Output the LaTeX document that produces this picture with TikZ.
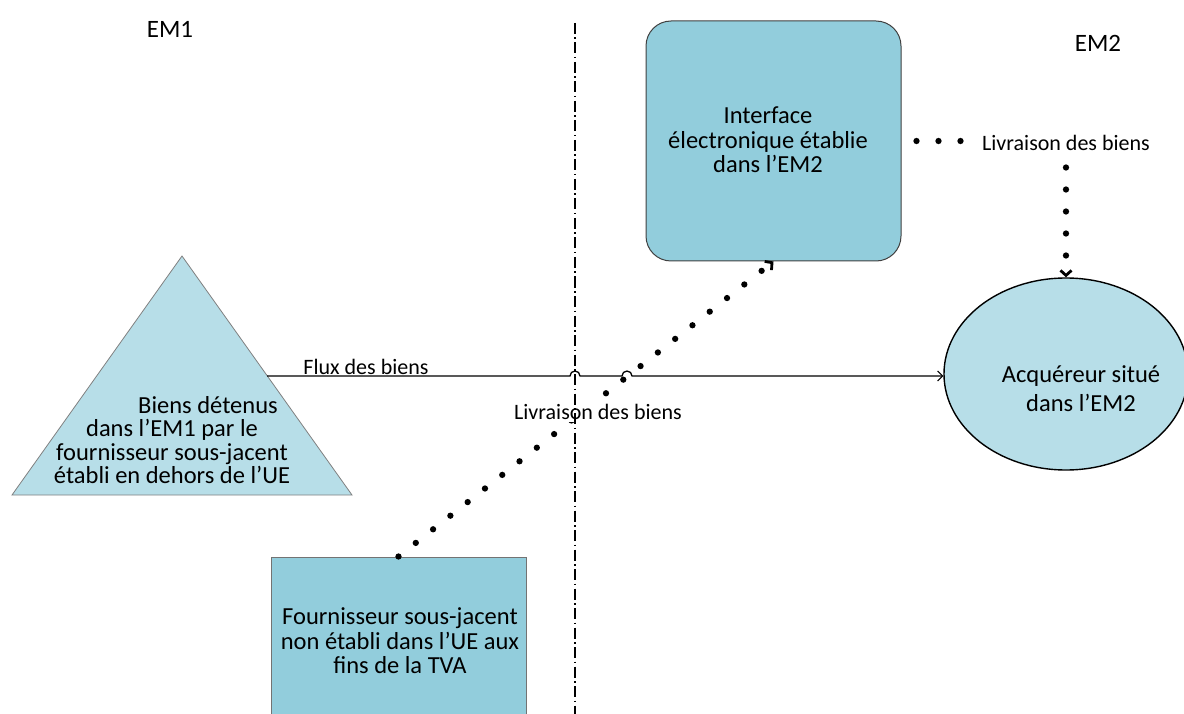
\documentclass[tikz,border=0pt]{standalone}
\usepackage{fontspec}
\setmainfont{Carlito}
\usetikzlibrary{arrows.meta,shapes.geometric}
\definecolor{boxblue}{RGB}{146,205,220}
\definecolor{lightblue}{RGB}{183,222,232}
\begin{document}
\begin{tikzpicture}[x=1pt,y=-1pt,
  boxtxt/.style={align=center,font=\fontsize{24.5}{24.5}\selectfont,inner sep=0pt},
  lbl/.style={font=\fontsize{22}{26}\selectfont,inner sep=0pt},
  dotline/.style={line width=6.3pt,line cap=round,dash pattern=on 0pt off 22pt},
  dottip/.style={-{Straight Barb[length=5pt,width=11pt,line width=2.8pt]}},
  sepline/.style={line width=1.5pt,dash pattern=on 11pt off 3.5pt on 1.5pt off 3.5pt},
  fluxline/.style={line width=1.3pt,-{Straight Barb[length=5pt,width=10pt,line width=1.1pt]}},
  ifacebox/.style={draw=black!75,line width=1pt,fill=boxblue,rounded corners=25pt,minimum width=255pt,minimum height=240pt},
  fournbox/.style={draw=black!55,line width=1pt,fill=boxblue,minimum width=255pt,minimum height=180pt},
  acqell/.style={ellipse,draw=black,line width=1.4pt,fill=lightblue,minimum width=244pt,minimum height=192pt},
]
\useasboundingbox (0,0) rectangle (1184,714);

% shapes
\node[ifacebox] (iface) at (773.5,141) {};
\node[fournbox] (fourn) at (398.5,647) {};
\node[acqell] (acq) at (1066,374) {};
\coordinate (tA) at (182,256);
\coordinate (tB) at (12,495);
\coordinate (tC) at (352,495);
\draw[draw=black!50,line width=0.8pt,fill=lightblue] (tA) -- (tB) -- (tC) -- cycle;

% texts in shapes
\node[boxtxt] (ifacetxt) at (768,140) {Interface\\électronique établie\\dans l’EM2};
\node[boxtxt] (fourntxt) at (400,641) {Fournisseur sous-jacent\\non établi dans l’UE aux\\fins de la TVA};
\node[align=center,font=\fontsize{24.5}{29}\selectfont,inner sep=0pt] (acqtxt) at (1081,389) {Acquéreur situé\\dans l’EM2};
\node[align=center,font=\fontsize{24.5}{23.5}\selectfont,inner sep=0pt] (tritxt) at (172,440) {\hspace*{72pt}Biens détenus\\dans l’EM1 par le\\fournisseur sous-jacent\\établi en dehors de l’UE};

% region labels
\node[lbl,font=\fontsize{25}{28}\selectfont] (em1) at (170,29) {EM1};
\node[lbl,font=\fontsize{25}{28}\selectfont] (em2) at (1098,43) {EM2};

% dotted connectors
\draw[dotline,dottip] (fourn.north) -- (iface.south);
\node[lbl,fill=white,inner sep=2pt] (liv1) at (598,412) {Livraison des biens};
\draw[dotline,dottip,dash phase=15pt] ([xshift=8pt]iface.east) -- (iface.east -| acq.north) -- (acq.north);
\node[lbl,fill=white,inner sep=3pt] (liv2) at (1066,143) {Livraison des biens};

% separator
\coordinate (vtop) at (575,23);
\coordinate (vbot) at (575,714);
\draw[sepline] (vtop) -- (vbot);

% flux of goods with line hops
\coordinate (fluxA) at (267,376);
\coordinate (hop1) at (575,376);
\coordinate (hop2) at (627,376);
\draw[fluxline] (fluxA) -- ([xshift=-5pt]hop1) arc[start angle=180,end angle=0,radius=5pt]
  -- ([xshift=-5pt]hop2) arc[start angle=180,end angle=0,radius=5pt]
  -- (fluxA -| acq.west);
\node[lbl,anchor=base] (flux) at (366,374) {Flux des biens};
\end{tikzpicture}
\end{document}
